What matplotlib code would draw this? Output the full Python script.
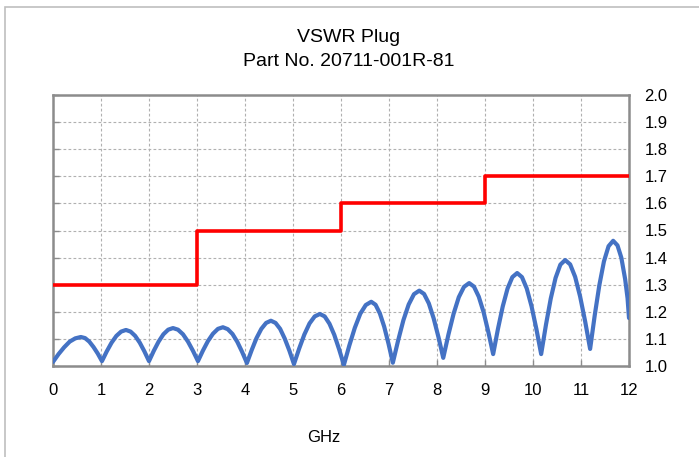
import matplotlib
matplotlib.use("Agg")
import matplotlib.pyplot as plt
from matplotlib.patches import Rectangle

plt.rcParams['font.family'] = ['Liberation Sans Narrow', 'Liberation Sans', 'DejaVu Sans']

freq_ghz = [
    0.00, 0.116, 0.232, 0.348, 0.464, 0.58, 0.668, 0.756, 0.844, 0.932,
    1.02, 1.12, 1.22, 1.32, 1.42, 1.52, 1.616, 1.712, 1.808, 1.904,
    2.00, 2.10, 2.20, 2.30, 2.40, 2.50, 2.604, 2.708, 2.812, 2.916,
    3.02, 3.124, 3.228, 3.332, 3.436, 3.54, 3.64, 3.74, 3.84, 3.94,
    4.04, 4.14, 4.24, 4.34, 4.44, 4.54, 4.636, 4.732, 4.828, 4.924,
    5.02, 5.128, 5.236, 5.344, 5.452, 5.56, 5.66, 5.76, 5.86, 5.96,
    6.06, 6.174, 6.288, 6.402, 6.516, 6.63, 6.72, 6.81, 6.90, 6.99,
    7.08, 7.19, 7.30, 7.41, 7.52, 7.63, 7.73, 7.83, 7.93, 8.03,
    8.13, 8.238, 8.346, 8.454, 8.562, 8.67, 8.77, 8.87, 8.97, 9.07,
    9.17, 9.27, 9.37, 9.47, 9.57, 9.67, 9.77, 9.87, 9.97, 10.07,
    10.17, 10.27, 10.37, 10.47, 10.57, 10.67, 10.774, 10.878, 10.982, 11.086,
    11.19, 11.286, 11.382, 11.478, 11.574, 11.67, 11.76, 11.84, 11.92, 11.97, 12.00]
vswr = [
    1.015, 1.044, 1.069, 1.090, 1.102, 1.107, 1.103, 1.090, 1.070, 1.046,
    1.018, 1.054, 1.086, 1.111, 1.127, 1.133, 1.127, 1.111, 1.086, 1.054,
    1.018, 1.056, 1.090, 1.117, 1.134, 1.140, 1.134, 1.117, 1.090, 1.056,
    1.018, 1.057, 1.092, 1.119, 1.137, 1.143, 1.136, 1.118, 1.089, 1.052,
    1.011, 1.059, 1.103, 1.137, 1.159, 1.167, 1.159, 1.137, 1.101, 1.057,
    1.007, 1.064, 1.116, 1.157, 1.183, 1.192, 1.183, 1.156, 1.115, 1.062,
    1.004, 1.076, 1.141, 1.193, 1.225, 1.237, 1.226, 1.194, 1.145, 1.082,
    1.012, 1.094, 1.169, 1.227, 1.265, 1.278, 1.266, 1.231, 1.176, 1.107,
    1.030, 1.116, 1.193, 1.254, 1.292, 1.306, 1.293, 1.256, 1.199, 1.125,
    1.044, 1.137, 1.220, 1.286, 1.328, 1.343, 1.328, 1.286, 1.220, 1.137,
    1.044, 1.152, 1.249, 1.325, 1.374, 1.391, 1.375, 1.329, 1.256, 1.165,
    1.063, 1.187, 1.298, 1.386, 1.442, 1.462, 1.445, 1.400, 1.320, 1.250, 1.177]

# Specification limit (red step)
limit_ghz = [0, 3, 6, 9, 12]
limit_vswr = [1.3, 1.5, 1.6, 1.7, 1.7]

x_ticks = list(range(0, 13))
y_ticks = [1.0, 1.1, 1.2, 1.3, 1.4, 1.5, 1.6, 1.7, 1.8, 1.9, 2.0]

W, H = 699, 457
fig = plt.figure(figsize=(W / 100, H / 100), dpi=100)
fig.patch.set_facecolor('white')

# outer frame
fig.patches.append(Rectangle((5 / W, -0.1), 1.2, (H - 7) / H + 0.1, transform=fig.transFigure,
                             fill=False, edgecolor='#bfbfbf', linewidth=1.2))

left, right, top, bottom = 53, 629, 95, 366
ax = fig.add_axes([left / W, (H - bottom) / H, (right - left) / W, (bottom - top) / H])

ax.plot(limit_ghz, limit_vswr, drawstyle='steps-post', color='#ff0000', linewidth=2.6, zorder=3)
ax.plot(freq_ghz, vswr, color='#4472c4', linewidth=3.0, zorder=4,
        solid_joinstyle='round', solid_capstyle='round')

ax.set_xlim(0, 12)
ax.set_ylim(1.0, 2.0)
ax.set_xticks(x_ticks)
ax.set_yticks(y_ticks)
ax.set_xticklabels([str(t) for t in x_ticks])
ax.set_yticklabels([f"{t:.1f}" for t in y_ticks])

ax.grid(True, color='#b0b0b0', linestyle=(0, (2.5, 2)), linewidth=0.8)
ax.set_axisbelow(True)
for s in ax.spines.values():
    s.set_color('#8c8c8c')
    s.set_linewidth(1.8)

ax.tick_params(axis='x', direction='in', length=4, width=1, color='#8c8c8c',
               labelsize=12, pad=12, labelcolor='black')
ax.tick_params(axis='y', direction='in', length=4, width=1, color='#8c8c8c',
               left=True, right=False, labelleft=False, labelright=True,
               labelsize=12, pad=11, labelcolor='black')

fig.text(349 / W, 1 - 37 / H, 'VSWR Plug', ha='center', va='center', fontsize=14)
fig.text(349 / W, 1 - 62 / H, 'Part No. 20711-001R-81', ha='center', va='center', fontsize=14)
fig.text(324 / W, 1 - 437 / H, 'GHz', ha='center', va='center', fontsize=12)

fig.savefig('out.png', dpi=100, facecolor='white')
